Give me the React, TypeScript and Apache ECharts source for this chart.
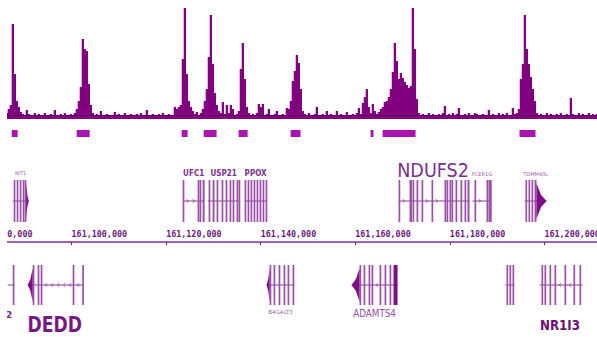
import React, { useEffect, useRef } from "react";
import * as echarts from "echarts";

// ---- genomic axis ----
const AXIS_MIN = 161080000;
const AXIS_MAX = 161220000;
const AXIS_STEP = 20000;

// ---- signal track (fixed-step bins) ----
const SIGNAL_START = 161084800;
const SIGNAL_STEP = 423;
const SIGNAL = [
  0, 0, 0, 6, 10, 14, 95, 45, 18, 12, 7, 5, 4, 9, 5, 3, 4, 6, 3, 5,
  4, 3, 6, 4, 3, 5, 4, 9, 4, 3, 5, 4, 6, 3, 4, 5, 3, 6, 10, 18,
  32, 80, 70, 68, 35, 14, 6, 4, 5, 3, 8, 4, 3, 5, 4, 3, 4, 7, 3, 5,
  4, 3, 6, 4, 3, 5, 4, 3, 5, 4, 6, 3, 4, 9, 4, 3, 5, 4, 3, 5,
  4, 6, 3, 4, 5, 3, 4, 12, 10, 12, 14, 60, 111, 45, 18, 12, 8, 5, 7, 4,
  6, 10, 18, 30, 62, 104, 55, 26, 14, 8, 6, 17, 5, 14, 6, 14, 10, 4, 5, 8,
  50, 76, 40, 12, 6, 4, 5, 3, 6, 15, 12, 15, 4, 5, 10, 4, 3, 5, 8, 4,
  3, 5, 4, 11, 10, 18, 38, 48, 64, 56, 30, 8, 5, 4, 6, 3, 4, 5, 12, 4,
  3, 5, 4, 8, 3, 5, 4, 3, 8, 4, 5, 3, 4, 7, 4, 3, 5, 4, 6, 11,
  5, 16, 22, 30, 12, 6, 15, 8, 5, 7, 10, 12, 17, 18, 22, 30, 47, 76, 58, 40,
  46, 41, 37, 34, 31, 33, 111, 70, 20, 6, 4, 5, 3, 4, 6, 3, 5, 4, 3, 5,
  4, 6, 13, 4, 5, 3, 6, 4, 5, 11, 4, 3, 5, 4, 6, 3, 4, 6, 5, 3,
  4, 5, 3, 4, 9, 4, 5, 3, 4, 6, 3, 5, 4, 6, 3, 4, 11, 5, 6, 10,
  40, 55, 104, 70, 55, 42, 30, 18, 6, 4, 5, 3, 4, 6, 3, 5, 4, 3, 5, 4,
  6, 3, 4, 5, 3, 21, 5, 4, 3, 6, 4, 5, 3, 4, 6, 3, 5, 4, 5,
];
const SIGNAL_THRESHOLD = 4;

// ---- called peaks ----
const PEAK_STARTS = [161087340, 161101080, 161123280, 161127930, 161135330, 161146320, 161163230, 161165770, 161194730];
const PEAK_ENDS = [161088600, 161103830, 161124540, 161130670, 161137230, 161148430, 161163860, 161172740, 161198110];

// ---- genes ----
const GENE_NAMES = ["NIT1", "UFC1", "USP21", "PPOX", "NDUFS2", "FCER1G", "TOMM40L", "2", "DEDD", "B4GALT3", "ADAMTS4", "APOA2", "NR1I3"];
const GENE_ROWS = [0, 0, 0, 0, 0, 0, 0, 1, 1, 1, 1, 1, 1];
const GENE_STRANDS = ["+", "+", "-", "+", "+", "+", "+", "-", "-", "-", "-", "-", "-"];
const GENE_TIPS = [1, 0, 0, 0, 0, 0, 1, 0, 1, 1, 1, 0, 0];
const GENE_STARTS = [161087550, 161123490, 161128780, 161136590, 161169150, 161184790, 161195790, 161086490, 161090720, 161141240, 161159210, 161191770, 161198960];
const GENE_ENDS = [161090930, 161128140, 161135540, 161141240, 161184160, 161188810, 161200440, 161087970, 161102560, 161147160, 161168940, 161193670, 161208050];
const GENE_EXONS: number[][][] = [
  [[161087760, 161088060], [161088390, 161088700], [161089030, 161089330], [161089660, 161089960], [161090080, 161090400]],
  [[161123490, 161123700], [161126660, 161126960], [161127080, 161127380], [161127710, 161128140]],
  [[161128980, 161129280], [161129830, 161130230], [161130670, 161130970], [161131730, 161132030], [161132580, 161132880], [161133420, 161133720], [161134060, 161134360], [161134900, 161135200], [161135320, 161135540]],
  [[161136590, 161136890], [161137230, 161137530], [161137860, 161138160], [161138500, 161138800], [161139130, 161139430], [161139760, 161140060], [161140400, 161140700], [161141030, 161141240]],
  [[161169150, 161169450], [161171470, 161172000], [161172110, 161172410], [161172950, 161173250], [161174010, 161174310], [161176120, 161176420], [161178870, 161179170], [161179300, 161179600], [161179930, 161180230], [161180350, 161180650], [161181200, 161181500], [161182250, 161182550], [161183100, 161183400], [161183730, 161184160]],
  [[161185210, 161185510], [161187750, 161188050], [161188170, 161188470], [161188500, 161188810]],
  [[161195990, 161196290], [161196630, 161196930], [161197270, 161197570], [161197900, 161198320]],
  [[161087550, 161087850]],
  [[161091780, 161092100], [161092830, 161093130], [161093470, 161093770], [161100230, 161100530], [161102250, 161102560]],
  [[161141880, 161142180], [161142720, 161143020], [161143780, 161144080], [161144840, 161145140], [161145680, 161145980], [161146740, 161147040]],
  [[161160900, 161161200], [161161750, 161162050], [161162810, 161163110], [161163440, 161163740], [161165130, 161165430], [161166190, 161166490], [161167250, 161167550], [161168090, 161168940]],
  [[161191980, 161192280], [161192610, 161192910], [161193250, 161193550]],
  [[161199380, 161199680], [161200010, 161200310], [161201070, 161201370], [161202130, 161202430], [161204240, 161204540], [161206140, 161206440], [161207410, 161207710]],
];

// label styles (kept separate from data)
type LabelStyle = { size: number; bold?: boolean; scaleX?: number; color: string; dy: number; dx?: number };
const LABEL_STYLE: Record<string, LabelStyle> = {
  NIT1: { size: 5, color: "#9a5aa8", dy: -7 },
  UFC1: { size: 9.5, bold: true, color: "#7e3090", dy: -7, scaleX: 0.76 },
  USP21: { size: 9.5, bold: true, color: "#7e3090", dy: -7, scaleX: 0.76 },
  PPOX: { size: 9.5, bold: true, color: "#7e3090", dy: -7, scaleX: 0.76 },
  NDUFS2: { size: 20, color: "#7b2d91", dy: -10, scaleX: 0.88, dx: -1 },
  FCER1G: { size: 5, color: "#9a5aa8", dy: -6 },
  TOMM40L: { size: 5, color: "#9a5aa8", dy: -6 },
  "2": { size: 9, bold: true, color: "#7a2a8a", dy: 10, dx: -2 },
  DEDD: { size: 22, bold: true, color: "#751a85", dy: 20, scaleX: 0.78, dx: -1 },
  B4GALT3: { size: 5.5, color: "#9a5aa8", dy: 7 },
  ADAMTS4: { size: 10, color: "#9a4aaa", dy: 8, scaleX: 0.88 },
  NR1I3: { size: 14, bold: true, color: "#6c1070", dy: 20, scaleX: 0.85, dx: -1 },
};

const SIGNAL_COLOR = "#800080";
const PEAK_COLOR = "#aa14b0";
const GENE_COLOR = "#9b50a8";
const GENE_DARK = "#7d0f84";
const LINE_COLOR = "#8a3a98";

// the visible panel starts 7px in; the chart canvas is wider than it so the axis range maps onto the view
const VIEW_W = 597;
const VIEW_H = 337;
const PANEL_LEFT = 7;
const CANVAS_LEFT = -23;
const CANVAS_W = 662;

function fmt(v: number): string {
  const s = Math.round(v).toString();
  return s.replace(/\B(?=(\d{3})+(?!\d))/g, ",");
}

function geneRenderer(params: any, api: any) {
  const gi = api.value(0) as number;
  const name = GENE_NAMES[gi];
  const strand = GENE_STRANDS[gi];
  const exons = GENE_EXONS[gi];
  const h = api.size([0, 1])[1];
  const cy = api.coord([GENE_STARTS[gi], 0.5])[1];
  const top = cy - h / 2;
  const bottom = cy + h / 2;
  const xs = api.coord([GENE_STARTS[gi], 0.5])[0];
  const xe = api.coord([GENE_ENDS[gi], 0.5])[0];
  const children: any[] = [];
  children.push({ type: "line", shape: { x1: xs, y1: cy, x2: xe, y2: cy }, style: { stroke: LINE_COLOR, lineWidth: 1 } });
  const pts: number[] = [xs];
  exons.forEach((e) => {
    pts.push(api.coord([e[0], 0.5])[0]);
    pts.push(api.coord([e[1], 0.5])[0]);
  });
  pts.push(xe);
  for (let k = 0; k + 1 < pts.length; k += 2) {
    const a = pts[k];
    const b = pts[k + 1];
    for (let p = a + 4; p < b - 2.5; p += 6) {
      const d = strand === "+" ? 1 : -1;
      children.push({
        type: "polyline",
        shape: { points: [[p - 1.2 * d, cy - 1.8], [p + 0.8 * d, cy], [p - 1.2 * d, cy + 1.8]] },
        style: { stroke: LINE_COLOR, lineWidth: 0.8, fill: "none" },
      });
    }
  }
  exons.forEach((e) => {
    const x0 = api.coord([e[0], 0.5])[0];
    const x1 = api.coord([e[1], 0.5])[0];
    const w = Math.max(x1 - x0, 1.7);
    children.push({
      type: "rect",
      shape: { x: x0, y: top, width: w, height: h },
      style: { fill: w > 3 ? GENE_DARK : GENE_COLOR },
    });
  });
  if (GENE_TIPS[gi]) {
    let t0: number, t1: number;
    if (strand === "-") {
      t0 = xs;
      t1 = api.coord([exons[0][0], 0.5])[0];
    } else {
      t1 = xe;
      t0 = api.coord([exons[exons.length - 1][1], 0.5])[0];
    }
    const w = t1 - t0;
    const poly =
      strand === "-"
        ? [[t0, cy], [t0 + w * 0.55, cy - h * 0.15], [t1, cy - h * 0.42], [t1, cy + h * 0.42], [t0 + w * 0.55, cy + h * 0.15]]
        : [[t1, cy], [t1 - w * 0.55, cy - h * 0.15], [t0, cy - h * 0.42], [t0, cy + h * 0.42], [t1 - w * 0.55, cy + h * 0.15]];
    children.push({ type: "polygon", shape: { points: poly }, style: { fill: GENE_DARK } });
  }
  const ls = LABEL_STYLE[name];
  if (ls) {
    const ly = GENE_ROWS[gi] === 0 ? top + ls.dy : bottom + ls.dy;
    children.push({
      type: "text",
      x: (xs + xe) / 2 + (ls.dx || 0),
      y: ly,
      scaleX: ls.scaleX || 1,
      style: {
        text: name,
        fontSize: ls.size,
        fontWeight: ls.bold ? "bold" : "normal",
        fontFamily: "DejaVu Sans",
        fill: ls.color,
        align: "center",
        verticalAlign: "middle",
      },
    });
  }
  return { type: "group", children };
}

export default function App() {
  const ref = useRef<HTMLDivElement>(null);
  useEffect(() => {
    if (!ref.current) return;
    const chart = echarts.init(ref.current, undefined, { renderer: "svg" });
    const gridBase = { left: 0, right: 0, containLabel: false, outerBoundsMode: "none" };
    const grids = [
      { ...gridBase, top: 5, height: 114 },
      { ...gridBase, top: 130, height: 7 },
      { ...gridBase, top: 180, height: 42 },
      { ...gridBase, top: 228, height: 14 },
      { ...gridBase, top: 265, height: 40 },
    ];
    const xAxes = grids.map((_, k) => ({
      type: "value",
      gridIndex: k,
      min: AXIS_MIN,
      max: AXIS_MAX,
      interval: AXIS_STEP,
      show: k === 3,
      axisLine: { show: true, lineStyle: { color: "#8a2a9a", width: 1.6 } },
      axisTick: { show: true, length: 3, lineStyle: { color: "#7a1a8a", width: 1 } },
      splitLine: { show: false },
      axisLabel: {
        show: true,
        inside: true,
        margin: 4,
        align: "left",
        color: "#6a1a78",
        fontFamily: "DejaVu Sans Mono",
        fontWeight: "bold",
        fontSize: 8.4,
        formatter: (v: number) => fmt(v),
      },
    }));
    const yAxes = grids.map((_, k) => ({
      type: "value",
      gridIndex: k,
      min: 0,
      max: k === 0 ? 114 : 1,
      show: false,
    }));
    const signalData = SIGNAL.map((v, i) => [SIGNAL_START + i * SIGNAL_STEP, SIGNAL_START + (i + 1) * SIGNAL_STEP, v]);
    const peakData = PEAK_STARTS.map((s, i) => [s, PEAK_ENDS[i]]);
    const topGenes = GENE_NAMES.map((_, i) => i).filter((i) => GENE_ROWS[i] === 0).map((i) => [i, GENE_STARTS[i], GENE_ENDS[i]]);
    const botGenes = GENE_NAMES.map((_, i) => i).filter((i) => GENE_ROWS[i] === 1).map((i) => [i, GENE_STARTS[i], GENE_ENDS[i]]);
    chart.setOption({
      animation: false,
      backgroundColor: "#ffffff",
      grid: grids,
      xAxis: xAxes,
      yAxis: yAxes,
      series: [
        {
          type: "custom",
          xAxisIndex: 0,
          yAxisIndex: 0,
          silent: true,
          data: signalData,
          renderItem: (params: any, api: any) => {
            const p0 = api.coord([api.value(0), 0]);
            const p1 = api.coord([api.value(1), api.value(2)]);
            return {
              type: "rect",
              shape: { x: p0[0], y: p1[1], width: p1[0] - p0[0] + 0.3, height: p0[1] - p1[1] },
              style: { fill: SIGNAL_COLOR },
            };
          },
          markLine: {
            silent: true,
            symbol: "none",
            label: { show: false },
            lineStyle: { color: "#5a005a", width: 1.2, type: "solid" },
            data: [{ yAxis: SIGNAL_THRESHOLD }],
          },
        },
        {
          type: "custom",
          xAxisIndex: 1,
          yAxisIndex: 1,
          silent: true,
          data: peakData,
          renderItem: (params: any, api: any) => {
            const p0 = api.coord([api.value(0), 0]);
            const p1 = api.coord([api.value(1), 1]);
            return {
              type: "rect",
              shape: { x: p0[0], y: p1[1], width: p1[0] - p0[0], height: p0[1] - p1[1] },
              style: { fill: PEAK_COLOR },
            };
          },
        },
        { type: "custom", xAxisIndex: 2, yAxisIndex: 2, silent: true, data: topGenes, renderItem: geneRenderer },
        { type: "custom", xAxisIndex: 4, yAxisIndex: 4, silent: true, data: botGenes, renderItem: geneRenderer },
      ],
    });
    return () => chart.dispose();
  }, []);
  return (
    <div style={{ position: "fixed", left: 0, top: 0, width: VIEW_W, height: VIEW_H, background: "#fff" }}>
      <div style={{ position: "absolute", left: PANEL_LEFT, top: 0, width: VIEW_W - PANEL_LEFT, height: VIEW_H, overflow: "hidden" }}>
        <div ref={ref} style={{ position: "absolute", left: CANVAS_LEFT - PANEL_LEFT, top: 0, width: CANVAS_W, height: VIEW_H }} />
      </div>
    </div>
  );
}
